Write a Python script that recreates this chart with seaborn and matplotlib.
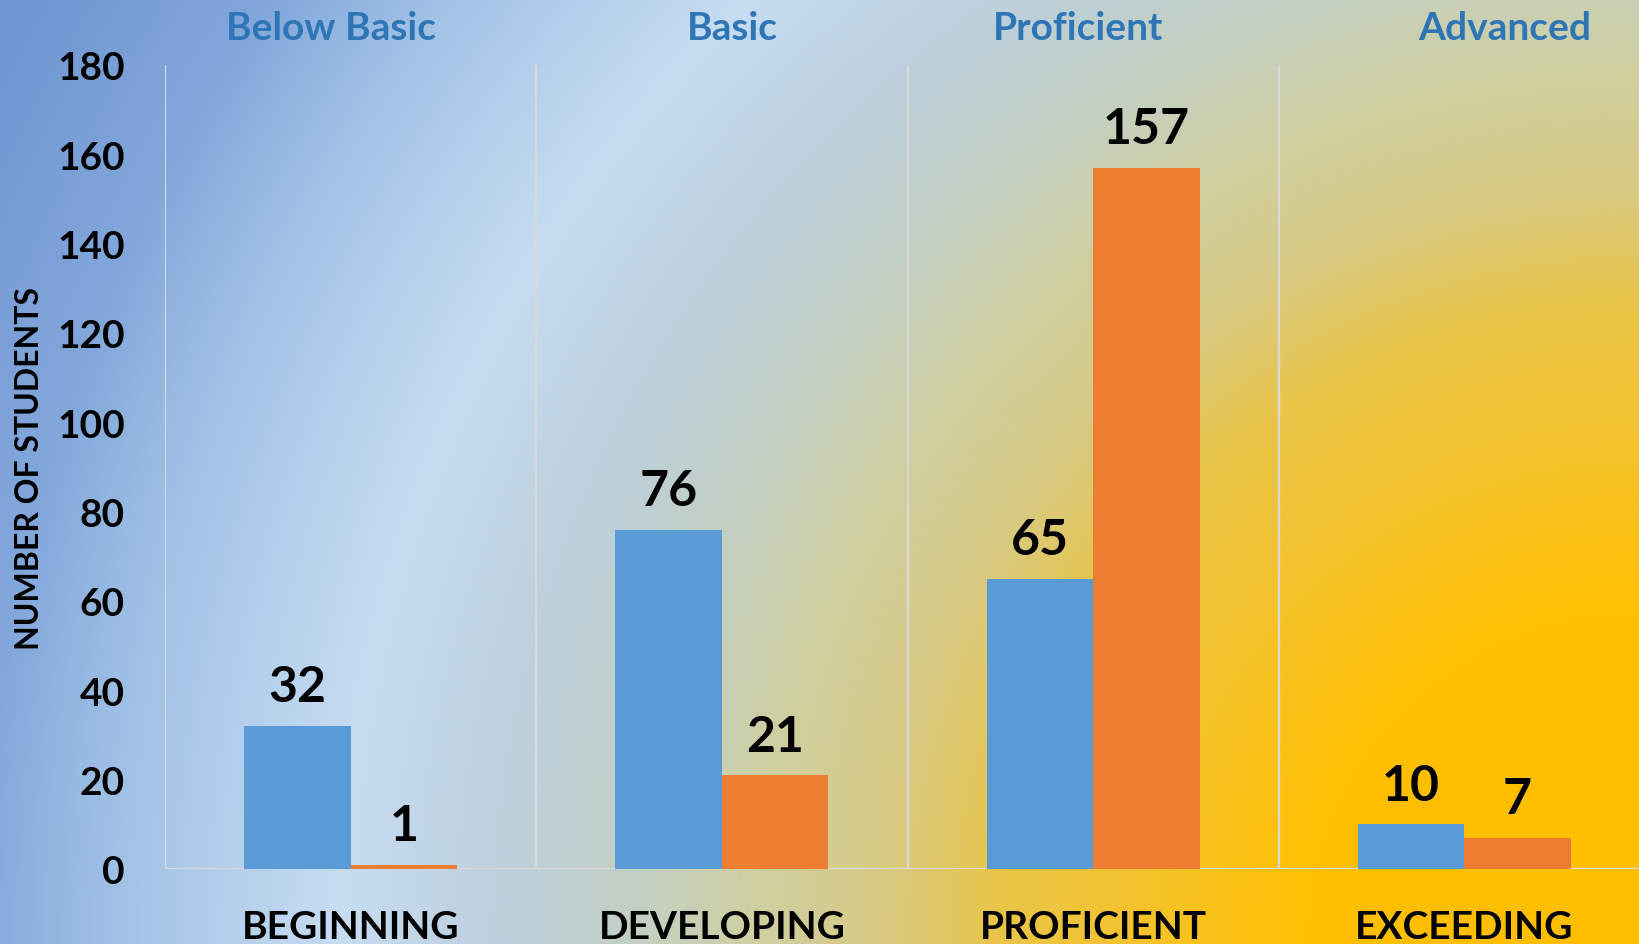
import numpy as np
import pandas as pd
import matplotlib
matplotlib.use("Agg")
import matplotlib.pyplot as plt
from matplotlib.colors import to_rgb
import seaborn as sns

# ---- data ----
levels = ["BEGINNING", "DEVELOPING", "PROFICIENT", "EXCEEDING"]
legacy_levels = ["Below Basic", "Basic", "Proficient", "Advanced"]
series_names = ["Series 1", "Series 2"]
series_1 = [32, 76, 65, 10]
series_2 = [1, 21, 157, 7]
y_ticks = [0, 20, 40, 60, 80, 100, 120, 140, 160, 180]
y_title = "NUMBER OF STUDENTS"

# ---- style ----
W, H, DPI = 1639, 945, 100
BLUE, ORANGE = "#5B9BD5", "#ED7D31"
TITLE_BLUE = "#2E75B6"
GRID = "#D9D9D9"

sns.set_style("white")
plt.rcParams["font.family"] = ["Lato", "DejaVu Sans"]
plt.rcParams["font.weight"] = "bold"

fig = plt.figure(figsize=(W / DPI, H / DPI), dpi=DPI)

# radial gradient fill anchored at the lower-right corner
yy, xx = np.mgrid[0:H, 0:W]
dist = np.hypot(xx - W, yy - H)
stops = [
    (0, "#FFC000"), (330, "#FFC000"), (520, "#F3C331"), (640, "#E9C547"),
    (760, "#D8CA84"), (880, "#CFCFA0"), (990, "#C4D0C0"), (1130, "#BCCFDB"),
    (1300, "#C6DCF1"), (1440, "#B0CCEA"), (1550, "#9BBDE4"), (1660, "#82A7DB"),
    (1900, "#6D94D1"),
]
pos = np.array([s[0] for s in stops], dtype=float)
cols = np.array([to_rgb(s[1]) for s in stops])
img = np.dstack([np.interp(dist, pos, cols[:, k]) for k in range(3)])

bg = fig.add_axes([0, 0, 1, 1], zorder=-10)
bg.imshow(img, aspect="auto", extent=(0, 1, 0, 1), origin="upper")
bg.set_axis_off()

# ---- bars ----
ax = fig.add_axes([165 / W, 75 / H, 1485 / W, 804 / H])
ax.set_facecolor("none")

df = pd.DataFrame({
    "level": levels * 2,
    "students": series_1 + series_2,
    "series": [series_names[0]] * len(levels) + [series_names[1]] * len(levels),
})

sns.barplot(
    data=df, x="level", y="students", hue="series",
    order=levels, hue_order=series_names,
    palette=[BLUE, ORANGE], saturation=1, width=0.574,
    linewidth=0, errorbar=None, legend=False, ax=ax, zorder=3,
)

for container in ax.containers:
    ax.bar_label(container, fmt="%d", padding=12, fontsize=36,
                 fontweight="bold", color="black")

# category separators and baseline
ax.vlines([i - 0.5 for i in range(len(levels))], 0, y_ticks[-1],
          color=GRID, lw=1.6, zorder=1)
ax.axhline(0, color=GRID, lw=2.4, zorder=2)

ax.set_xlim(-0.5, len(levels) - 0.5)
ax.set_ylim(y_ticks[0], y_ticks[-1])
ax.set_yticks(y_ticks)
ax.set_xlabel("")
ax.set_ylabel("")
ax.tick_params(axis="both", length=0, pad=29, labelsize=28, labelcolor="black")
for lab in ax.get_xticklabels() + ax.get_yticklabels():
    lab.set_fontweight("bold")
sns.despine(ax=ax, left=True, bottom=True)

# axis title
fig.text(30 / W, 1 - 469 / H, y_title, rotation=90, ha="center", va="center",
         fontsize=23, fontweight="bold", color="black")

# legacy performance levels across the top
legacy_x = [331, 732, 1078, 1505]
for name, px in zip(legacy_levels, legacy_x):
    fig.text(px / W, 1 - 40 / H, name, ha="center", va="baseline",
             fontsize=28, fontweight="bold", color=TITLE_BLUE)

fig.savefig("out.png", dpi=DPI)
